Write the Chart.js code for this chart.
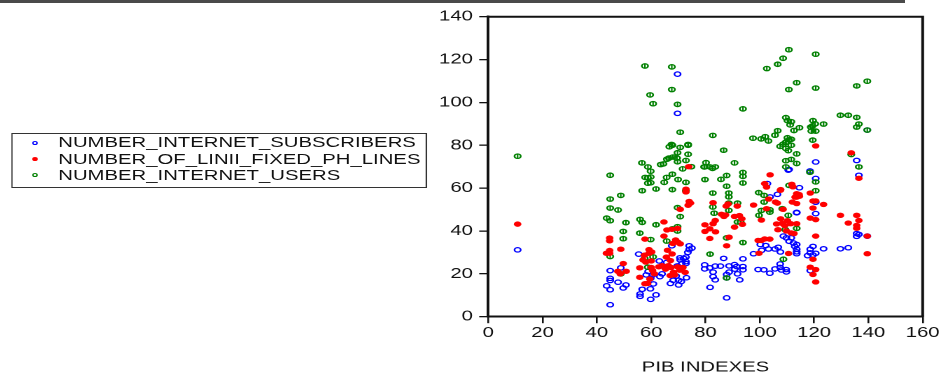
<!DOCTYPE html>
<html><head><meta charset="utf-8">
<script src="https://cdn.jsdelivr.net/npm/chart.js@4.4.1/dist/chart.umd.min.js"></script>
<style>
html,body{margin:0;padding:0;background:#fff;overflow:hidden;width:941px;height:376px;}
#topline{position:absolute;left:0;top:0;width:905px;height:3px;background:#4a4a4a;}
#wrap{position:absolute;left:0;top:0;width:672px;height:376px;transform:scaleX(1.4003);transform-origin:0 0;}
#c{position:absolute;left:0;top:0;width:672px;height:376px;}
#legend{position:absolute;left:8.4px;top:132.5px;width:296.6px;height:55px;border:1px solid #333;box-sizing:border-box;font-family:"Liberation Sans",Arial,sans-serif;font-size:14.5px;color:#111;}
.row{position:absolute;left:32.2px;height:16.7px;line-height:16.7px;white-space:nowrap;}
.mk{position:absolute;left:13.6px;width:4px;height:4px;box-sizing:border-box;border-radius:50%;}
</style></head>
<body>
<div id="topline"></div>
<div id="wrap">
  <canvas id="c" width="672" height="376"></canvas>
  <div id="legend">
    <span class="mk" style="top:7.8px;border:1.1px solid #0000ff;"></span>
    <div class="row" style="top:0.3px;">NUMBER_INTERNET_SUBSCRIBERS</div>
    <span class="mk" style="top:23.8px;background:#ff0000;"></span>
    <div class="row" style="top:17px;">NUMBER_OF_LINII_FIXED_PH_LINES</div>
    <span class="mk" style="top:39.8px;border:1.3px solid #008000;"></span>
    <div class="row" style="top:33.7px;">NUMBER_INTERNET_USERS</div>
  </div>
</div>
<script>
const xTicks = [0,20,40,60,80,100,120,140,160];
const yTicks = [0,20,40,60,80,100,120,140];

const subscribers = [
[10.8,31.2],[69.7,113.2],[69.7,94.9],[139.6,87.1],
[67.6,33.1],[74,33.1],[75,32],[74,31.3],[73.5,30],[72.8,27.8],[72.8,25.7],[70.7,26.5],
[72,27.2],[70.6,27.5],[71.3,24.8],[72.8,24.8],[69.6,23.7],[68.9,22.1],
[55.4,29.2],[65.7,25.3],[65,23.1],[48.8,22.8],[44.9,21.5],[44.9,17.9],[44.9,16.9],[43.6,14.4],[44.9,12.6],[47.8,16.1],[49.7,13.4],[50.7,14.8],[56.7,12.8],[55.9,10.6],[55.9,9.5],[59.8,8.1],[61.8,10.2],[59.7,13],[60.8,15.3],[44.9,5.6],
[67.1,15.5],[68.1,17],[70.1,17],[70.1,14.8],[71.1,16.4],[73,18.2],[69.2,19],
[63,26],[64,20],[63.2,18.7],[60.6,19.5],[58.9,21.1],[58.2,19.5],[59.8,17.9],
[110.8,68.7],[114.6,60.2],[106.5,57.1],[103.8,55.9],[113.6,48.7],[110.5,68.4],[102.8,62.1],
[108.7,37.6],[109.8,36.8],[111.6,36.8],[110.8,35.2],[112.4,34.4],[112.9,32.8],[113.6,30.3],
[100.2,33.7],[102.2,33.2],[103.2,31.6],[105.6,31.6],[106.8,32.4],[107.6,30.2],[100.7,31],
[97.7,29.4],[93.8,27],[93.8,23.4],[93.8,21.9],[91.5,23.4],[90.8,22.2],[91.8,20],
[86.7,27.2],[79.7,24.2],[79.7,22.3],[81.6,22.8],[83.6,23.6],[85.5,23.6],[82.8,20.8],[82.8,18.7],[83.6,17.2],[88.7,23.7],[90.7,24.3],[88.7,20.8],[92.6,17.2],[87.8,19.7],[87.8,18.1],[81.7,13.7],[87.8,8.8],
[99.4,22],[101.5,21.9],[103.7,20.3],
[107.5,24.6],[107.5,23],[108,21.8],[109.7,22],[105.6,22.3],[109.8,20.9],
[120.6,72.2],[135.7,72.9],[136.5,66],[118.5,68],[120.6,64.5],[120.6,53.4],[113.6,48.5],[120.6,48.1],[135.7,37.5],[136.5,38.4],[139.6,37.6],[135.7,38.8],
[113.6,33.7],[113.6,31.5],[113.6,29.4],[118.6,31.5],[119.6,32.8],[118.6,29.8],[120.6,29.6],[117.6,28.5],[119.6,28.8],[123.5,31.7],[129.7,31.7],[132.6,32.2],[118.6,21.5]
];

const fixedLines = [
[10.8,43.2],
[73.8,70],[72.8,59.5],[72.8,58.2],[74,53.8],[74.5,53],[73.6,52],[70.7,50.1],[64.7,44.2],[65.8,40.5],[67.6,40.8],[69.7,41.2],[64.7,37.6],[69,35.8],[69.8,34.8],[70.7,34],[68,34.2],[57.7,36.2],[44.7,36.7],[44.7,35.4],[44.7,30.9],[44.7,29.6],[43.5,29.6],[48.8,31.5],[49.7,24.8],[47.7,21.2],[50.8,21.2],[48.6,20],[55.8,22.8],[55.8,18.4],
[57,26.5],[58,25.5],[59.2,31.3],[59.2,29.6],[60.2,30.2],[60,26],[57.5,28.7],
[60,23],[60.5,21.6],[61.2,20],[59.5,17.6],[58.7,15.5],[57.7,15.4],
[62.8,23.3],[64,23.8],[65.3,22.2],[66.3,23.8],[67.3,23],[68.2,20.7],[69.7,23.3],[70.5,21.7],[71.7,23],[72.5,20.7],
[65.6,27.8],[67.1,26.2],[67.7,29.3],[66,31],[67,19.2],[68.6,19.5],
[103.8,66.2],[101.8,62.1],[111.8,61.8],[112.2,60.6],[107.7,59.3],[113,55.8],[114.5,57],[112,53.5],[103.3,54.9],[105.8,53.5],[106.5,53],[102.5,50.4],[108.6,50.1],[97.7,52.1],[100.6,45.1],[102.5,60.5],[107.6,59],
[107.7,45.7],[108.3,43.5],[106.2,43.3],[109.2,42.5],[110.2,44.8],[111.4,43.4],[106.7,40.6],[109.8,40],[111.6,39.1],[112.6,38.8],
[99.4,35.6],[100.6,35.6],[101.8,36.3],[103.7,36.2],[99.7,29.6],[110.6,29.5],
[82.8,53.2],[88.3,52.6],[87.6,51.6],[79.8,42.9],[79.8,39.8],[81.6,41],[82.8,43.4],[83.6,44.9],[81.6,36.5],[83.7,39.6],
[85.9,47.8],[87.4,47.5],[86.8,46.8],[90.7,46.8],[91.7,51.6],[93.4,45.7],[93.6,43.1],[90.7,41.8],[92.5,47.2],[88.7,37.1],[87.8,33.1],
[120.6,79.7],[133.7,76.5],[136.5,64.6],[113.6,57.4],[114.6,56.2],[113.6,55.8],[118.6,57.7],[119.6,54],[120.6,54],[119.6,50.7],[123.5,52.4],[113.6,52.8],[118.6,46],[120.6,45.3],[113.6,43.4],[129.7,47.3],[135.7,47.3],[132.6,43.7],[136.5,44.9],[135.7,42.6],[135.7,41.3],[139.6,37.6],[120.6,37.6],[139.6,29.4],[119.6,26.8],[118.6,23.1],[120.6,22],[119.6,19.7],[120.6,16.2]
];

const internetUsers = [
[10.8,74.9],
[57.7,117],[67.6,116.6],[59.6,103.5],[67.6,106],[60.7,99.4],[69.7,99.1],[70.7,86.1],[82.7,84.6],[93.8,97],
[102.6,115.8],[106.6,117.8],[108.6,120.6],[110.7,124.6],[120.6,122.5],[113.6,109.2],[110.7,106],[120.6,106.7],[135.7,107.7],[139.6,109.9],
[129.7,94],[132.6,94],[135.7,93],[136.5,89.9],[135.7,88.5],[139.6,87.1],
[109.6,92.9],[110.2,91.5],[111.6,91],[111.2,89.5],[119.6,91.5],[120.4,90],[119.4,89],[118.8,88.5],[123.5,89.9],[114.6,88.2],[112.6,86.9],[106.6,86.8],[105.6,84.7],[97.5,83.3],[100.5,83],[102,84],[103.2,82],[110.2,83.5],[110.8,82.5],[109.7,81.5],[119,86.6],[120.6,86.6],[119.5,82.4],
[67.5,80.4],[73.6,80.4],
[56.6,71.8],[58.8,69.9],[63.5,71],[64.5,71.3],[66.7,79.3],[67.8,80],[70.7,79],[73.6,80],[69.7,76.5],[66.5,74],[68,74.5],[69.5,74],[65.8,73.5],[73.6,75.8],[72.8,72.9],[69.7,72.3],[79.5,69.9],[74.8,70],
[86.7,77.7],[90.7,71.8],[80.2,71.9],[81.6,69.9],[79.7,69.9],[83.6,69.9],[82.6,69.2],
[107.5,79.5],[108.6,80.5],[109.5,81.3],[111.6,82.8],[111.6,80],[109.6,78.5],[110.5,77.5],[113.6,76],[109.6,72.8],[111.6,73.4],[113.6,71.5],[109.6,69.9],
[59.8,67.9],[71.6,69],
[44.9,66],[57.8,65],[58.8,64.8],[59.8,65.2],[58.8,62.3],[59.8,62.5],[67.8,66.5],[65.7,65],[64.8,62.7],[69.9,64],[72.8,62.7],[61.8,59.6],[67.8,59.3],[56.7,58.8],[72.8,58.7],[48.8,56.6],[44.9,54.9],[44.9,50.7],[47.8,49.8],[43.6,46],[44.9,44.8],[50.7,43.9],[55.9,45.4],[56.7,44],[61.8,42.9],[69.7,50.9],[70.7,46.7],[67.8,41],[69.7,42],[69.7,40],[49.7,39.8],[55.8,39],[49.7,36.4],[59.8,36],[65.7,35.3],[44.9,28.1],[60.7,27.9],[57.6,27.2],[48.8,20],[58.8,23.1],
[93.8,67.3],[93.8,65.5],[93.8,62.4],[87.8,65.9],[85.7,64.1],[79.8,64],[87.8,60.9],[82.7,57.7],[88.6,57.7],[88.6,55.9],[88.6,53],[82.7,51.2],[83.2,48.3],[88.6,49.6],[91.8,53],[91.8,44.2],[93,44],[87.8,36.8],[93.8,34.6],[81.7,29.2],[87.8,18.1],
[99.6,57.9],[101.6,56.6],[101.6,53.5],[100.6,49.6],[99.7,47.3],[103.7,49.9],[103.7,48.8],[108.3,50.4],[110.5,47.3],[110.8,61.3],[113.6,41.2],[109.4,40.6],[108.7,26.8],
[118.5,67.4],[120.6,62.9],[120.6,58.8],[133.7,75.7],[136.5,69.9]
];

const toPts = a => a.map(([x, y]) => ({x, y}));
const FONT = '"Liberation Sans", Arial, sans-serif';

const framePlugin = {
  id: 'frame',
  afterDatasetsDraw(chart) {
    const {ctx, chartArea: a} = chart;
    ctx.save();
    ctx.strokeStyle = '#111';
    ctx.lineWidth = 2;
    ctx.beginPath();
    ctx.moveTo(a.left, a.top);
    ctx.lineTo(a.right, a.top);
    ctx.lineTo(a.right, a.bottom);
    ctx.stroke();
    ctx.restore();
  }
};

const axisCommon = {
  type: 'linear',
  grid: {drawOnChartArea: false, drawTicks: true, tickLength: 6.5, color: '#111', lineWidth: 1.3},
  border: {display: true, color: '#111', width: 2},
};

new Chart(document.getElementById('c'), {
  type: 'scatter',
  data: {
    datasets: [
      {label: 'NUMBER_INTERNET_SUBSCRIBERS', data: toPts(subscribers), pointStyle: 'circle', pointRadius: 2.2, pointBorderWidth: 1.25, pointBorderColor: '#0000ff', pointBackgroundColor: 'rgba(0,0,0,0)', order: 3},
      {label: 'NUMBER_OF_LINII_FIXED_PH_LINES', data: toPts(fixedLines), pointStyle: 'circle', pointRadius: 2.7, pointBorderWidth: 0, pointBorderColor: '#ff0000', pointBackgroundColor: '#ff0000', order: 0},
      {label: 'NUMBER_INTERNET_USERS', data: toPts(internetUsers), pointStyle: 'circle', pointRadius: 2.2, pointBorderWidth: 1.3, pointBorderColor: '#008000', pointBackgroundColor: 'rgba(0,0,0,0)', order: 2},
      {label: 'NUMBER_INTERNET_USERS', data: toPts(internetUsers), pointStyle: 'line', pointRotation: 90, pointRadius: 2.4, pointBorderWidth: 1.1, pointBorderColor: '#008000', order: 1}
    ]
  },
  options: {
    responsive: false,
    devicePixelRatio: 2,
    animation: false,
    events: [],
    layout: {padding: {left: 0, right: 13.1, top: 16.7, bottom: 0}},
    plugins: {legend: {display: false}, tooltip: {enabled: false}},
    scales: {
      x: Object.assign({}, axisCommon, {
        position: 'bottom', min: 0, max: 160,
        afterBuildTicks: s => { s.ticks = xTicks.map(v => ({value: v})); },
        afterFit: s => { s.height = 59.3; },
        ticks: {padding: 1, color: '#111', font: {family: FONT, size: 14.5}, maxRotation: 0, autoSkip: false},
        title: {display: true, text: 'PIB INDEXES', color: '#111', font: {family: FONT, size: 14.5}, padding: {top: 0, bottom: 0}}
      }),
      y: Object.assign({}, axisCommon, {
        position: 'left', min: 0, max: 140,
        afterBuildTicks: s => { s.ticks = yTicks.map(v => ({value: v})); },
        afterFit: s => { s.width = 348.7; },
        ticks: {padding: 4.5, color: '#111', font: {family: FONT, size: 14.5}, autoSkip: false}
      })
    }
  },
  plugins: [framePlugin]
});
</script>
</body></html>
